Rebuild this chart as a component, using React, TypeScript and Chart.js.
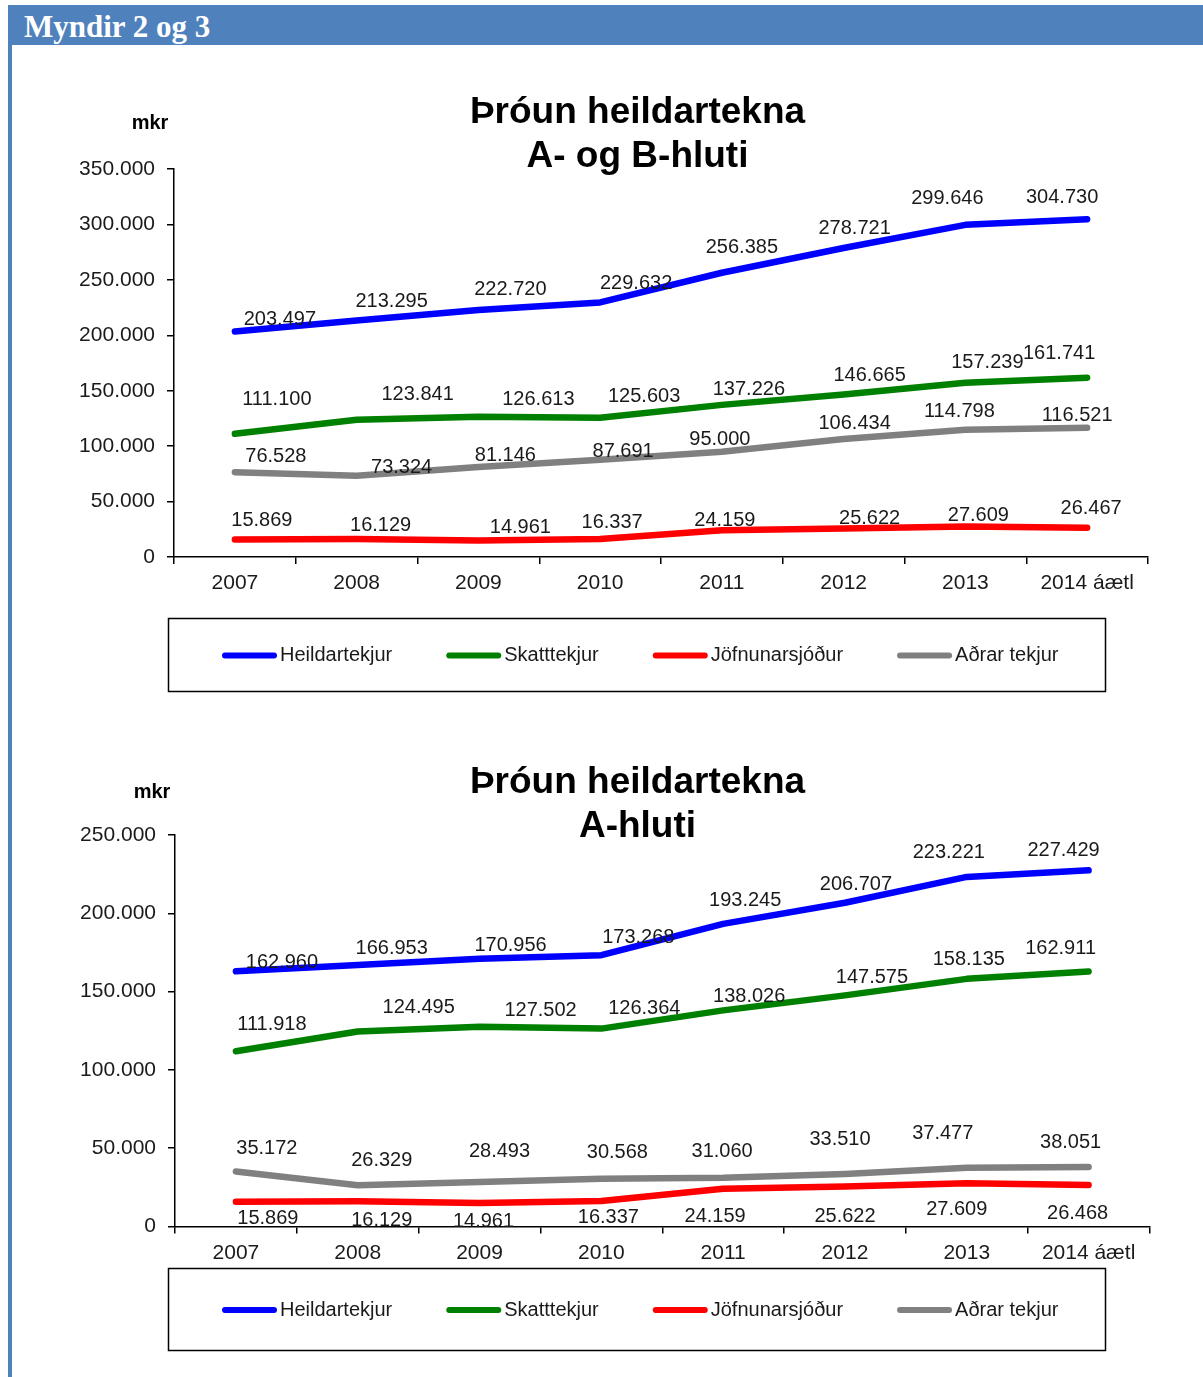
import React, { useEffect, useRef } from 'react';
import { Chart, registerables } from 'chart.js';

Chart.register(...registerables);

// ---------- data ----------
const years = ['2007', '2008', '2009', '2010', '2011', '2012', '2013', '2014 áætl'];
const seriesNames = ['Heildartekjur', 'Skatttekjur', 'Jöfnunarsjóður', 'Aðrar tekjur'];
const seriesColors = ['#0000ff', '#008000', '#ff0000', '#808080'];

// Mynd 2: A- og B-hluti
const abHeildartekjur = [203497, 213295, 222720, 229632, 256385, 278721, 299646, 304730];
const abSkatttekjur = [111100, 123841, 126613, 125603, 137226, 146665, 157239, 161741];
const abJofnunarsjodur = [15869, 16129, 14961, 16337, 24159, 25622, 27609, 26467];
const abAdrarTekjur = [76528, 73324, 81146, 87691, 95000, 106434, 114798, 116521];
const abYMax = 350000;
const abYStep = 50000;

// Mynd 3: A-hluti
const aHeildartekjur = [162960, 166953, 170956, 173268, 193245, 206707, 223221, 227429];
const aSkatttekjur = [111918, 124495, 127502, 126364, 138026, 147575, 158135, 162911];
const aJofnunarsjodur = [15869, 16129, 14961, 16337, 24159, 25622, 27609, 26468];
const aAdrarTekjur = [35172, 26329, 28493, 30568, 31060, 33510, 37477, 38051];
const aYMax = 250000;
const aYStep = 50000;

// data-label nudges (pixels, relative to each point) – styling only
const abLabelDx = [
  [45, 35, 32, 36, 20, 11, -18, -25],
  [42, 61, 60, 44, 27, 26, 22, -28],
  [27, 24, 42, 12, 3, 26, 13, 4],
  [41, 45, 27, 23, -2, 11, -6, -10],
];
const abLabelDy = [
  [-12, -19, -21, -19, -25, -20, -26, -22],
  [-34, -25, -17, -21, -15, -19, -20, -24],
  [-19, -14, -13, -16, -10, -10, -11, -19],
  [-16, -8, -12, -8, -12, -16, -18, -12],
];
const aLabelDx = [
  [46, 34, 31, 37, 22, 11, -18, -25],
  [36, 61, 61, 43, 26, 27, 2, -28],
  [32, 24, 4, 7, -8, 0, -10, -11],
  [31, 24, 20, 16, -1, -5, -24, -18],
];
const aLabelDy = [
  [-9, -17, -13, -18, -23, -18, -24, -20],
  [-27, -24, -16, -20, -14, -18, -19, -23],
  [17, 19, 18, 17, 28, 30, 26, 28],
  [-23, -25, -30, -26, -26, -35, -34, -24],
];

const FONT = '"Liberation Sans", Arial, Helvetica, sans-serif';
const TEXT = '#1a1a1a';

function fmt(n: number): string {
  return Math.round(n).toString().replace(/\B(?=(\d{3})+(?!\d))/g, '.');
}

type PanelProps = {
  top: number;
  height: number;
  titleLines: string[];
  titleY: number[];
  mkrX: number;
  mkrY: number;
  series: number[][];
  yMax: number;
  yStep: number;
  axisLeft: number;
  padTop: number;
  padRight: number;
  padBottom: number;
  legendTop: number;
  legendHeight: number;
  labelDx: number[][];
  labelDy: number[][];
};

function ChartPanel(p: PanelProps) {
  const ref = useRef<HTMLCanvasElement | null>(null);

  useEffect(() => {
    const canvas = ref.current;
    if (!canvas) return;

    const decor = {
      id: 'decor',
      afterDatasetsDraw(chart: any) {
        const ctx = chart.ctx as CanvasRenderingContext2D;
        ctx.save();
        ctx.font = `20px ${FONT}`;
        ctx.fillStyle = TEXT;
        ctx.textAlign = 'center';
        ctx.textBaseline = 'middle';
        chart.data.datasets.forEach((ds: any, di: number) => {
          const meta = chart.getDatasetMeta(di);
          meta.data.forEach((pt: any, i: number) => {
            const v = ds.data[i] as number;
            ctx.fillText(fmt(v), pt.x + p.labelDx[di][i], pt.y + p.labelDy[di][i]);
          });
        });
        ctx.restore();
      },
      afterDraw(chart: any) {
        const ctx = chart.ctx as CanvasRenderingContext2D;
        ctx.save();
        ctx.fillStyle = '#000';
        ctx.textAlign = 'center';
        ctx.textBaseline = 'middle';
        ctx.font = `bold 37px ${FONT}`;
        p.titleLines.forEach((t, i) => ctx.fillText(t, 637.5, p.titleY[i]));
        ctx.font = `bold 20px ${FONT}`;
        ctx.fillText('mkr', p.mkrX, p.mkrY);
        ctx.strokeStyle = '#000';
        ctx.lineWidth = 1.5;
        ctx.strokeRect(168.5, p.legendTop + 0.5, 937, p.legendHeight);
        const ly = p.legendTop + p.legendHeight / 2 + 1;
        let x = 222;
        ctx.font = `20px ${FONT}`;
        ctx.textAlign = 'left';
        ctx.textBaseline = 'middle';
        seriesNames.forEach((name, i) => {
          ctx.strokeStyle = seriesColors[i];
          ctx.lineWidth = 6;
          ctx.lineCap = 'round';
          ctx.beginPath();
          ctx.moveTo(x + 3, ly);
          ctx.lineTo(x + 52, ly);
          ctx.stroke();
          ctx.fillStyle = TEXT;
          const tx = x + 58;
          ctx.fillText(name, tx, ly);
          x = tx + ctx.measureText(name).width + 54;
        });
        ctx.restore();
      },
    };

    const chart = new Chart(canvas, {
      type: 'line',
      data: {
        labels: years,
        datasets: p.series.map((d, i) => ({
          label: seriesNames[i],
          data: d,
          borderColor: seriesColors[i],
          backgroundColor: seriesColors[i],
          borderWidth: 6.5,
          borderCapStyle: 'round' as const,
          borderJoinStyle: 'round' as const,
          pointRadius: 0,
          pointHoverRadius: 0,
          tension: 0,
          fill: false,
        })),
      },
      options: {
        responsive: false,
        animation: false,
        events: [],
        layout: {
          padding: { left: 0, top: p.padTop, right: p.padRight, bottom: p.padBottom },
        },
        plugins: {
          legend: { display: false },
          title: { display: false },
          tooltip: { enabled: false },
        },
        scales: {
          x: {
            type: 'category',
            offset: true,
            afterFit: (s: any) => {
              s.height = 40;
            },
            grid: {
              offset: true,
              drawOnChartArea: false,
              drawTicks: true,
              tickLength: 7,
              color: '#000',
              lineWidth: 1.5,
            },
            border: { display: true, color: '#000', width: 1.5 },
            ticks: {
              color: TEXT,
              font: { family: FONT, size: 21 },
              padding: 7,
              maxRotation: 0,
              autoSkip: false,
            },
          },
          y: {
            min: 0,
            max: p.yMax,
            afterFit: (s: any) => {
              s.width = p.axisLeft;
            },
            grid: {
              drawOnChartArea: false,
              drawTicks: true,
              tickLength: 7,
              color: '#000',
              lineWidth: 1.5,
            },
            border: { display: true, color: '#000', width: 1.5 },
            ticks: {
              stepSize: p.yStep,
              color: TEXT,
              font: { family: FONT, size: 21 },
              padding: 12,
              callback: (v: any) => fmt(Number(v)),
            },
          },
        },
      },
      plugins: [decor],
    } as any);

    return () => chart.destroy();
  }, []);

  return (
    <canvas
      ref={ref}
      width={1203}
      height={p.height}
      style={{ position: 'absolute', left: 0, top: p.top, width: 1203, height: p.height }}
    />
  );
}

export default function App() {
  return (
    <div
      style={{
        position: 'absolute',
        left: 0,
        top: 0,
        width: 1203,
        height: 1377,
        background: '#fff',
        overflow: 'hidden',
      }}
    >
      <div
        style={{
          position: 'absolute',
          left: 8,
          top: 5,
          width: 1195,
          height: 40,
          background: '#4f81bd',
        }}
      >
        <div
          style={{
            position: 'absolute',
            left: 16,
            top: 2,
            lineHeight: '40px',
            color: '#fff',
            fontFamily: '"Liberation Serif", "Times New Roman", serif',
            fontWeight: 'bold',
            fontSize: 31,
            whiteSpace: 'nowrap',
          }}
        >
          Myndir 2 og 3
        </div>
      </div>
      <div
        style={{
          position: 'absolute',
          left: 8,
          top: 45,
          width: 4,
          height: 1332,
          background: '#4f81bd',
        }}
      />
      <ChartPanel
        top={46}
        height={654}
        titleLines={['Þróun heildartekna', 'A- og B-hluti']}
        titleY={[67, 111]}
        mkrX={150}
        mkrY={77}
        series={[abHeildartekjur, abSkatttekjur, abJofnunarsjodur, abAdrarTekjur]}
        yMax={abYMax}
        yStep={abYStep}
        axisLeft={174}
        padTop={123}
        padRight={55}
        padBottom={103}
        legendTop={572}
        legendHeight={73}
        labelDx={abLabelDx}
        labelDy={abLabelDy}
      />
      <ChartPanel
        top={700}
        height={677}
        titleLines={['Þróun heildartekna', 'A-hluti']}
        titleY={[83, 127]}
        mkrX={152}
        mkrY={92}
        series={[aHeildartekjur, aSkatttekjur, aJofnunarsjodur, aAdrarTekjur]}
        yMax={aYMax}
        yStep={aYStep}
        axisLeft={175}
        padTop={135}
        padRight={53.5}
        padBottom={110.5}
        legendTop={568}
        legendHeight={82}
        labelDx={aLabelDx}
        labelDy={aLabelDy}
      />
    </div>
  );
}
